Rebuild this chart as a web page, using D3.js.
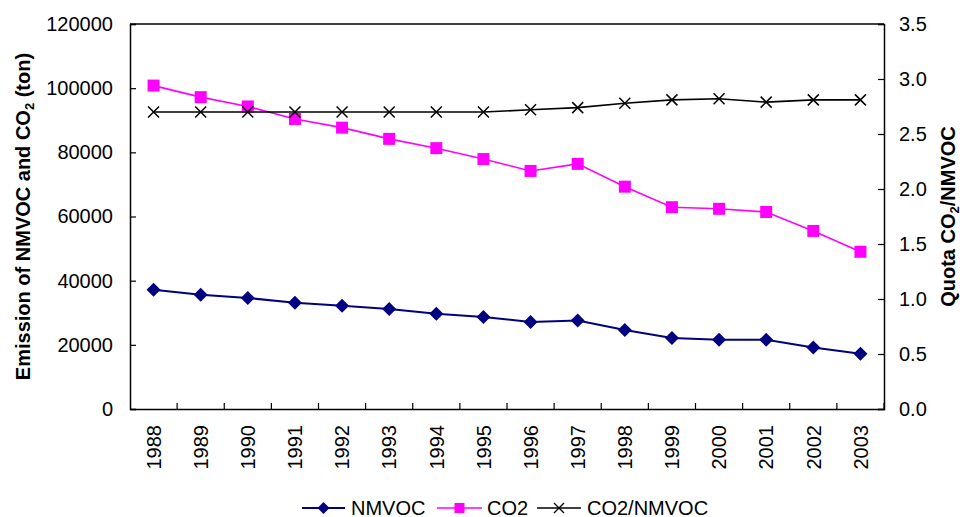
<!DOCTYPE html>
<html>
<head>
<meta charset="utf-8">
<script src="https://cdn.jsdelivr.net/npm/d3@7"></script>
<style>
  html, body { margin: 0; padding: 0; background: #fff; }
  svg { display: block; font-family: "Liberation Sans", Arial, sans-serif; }
</style>
</head>
<body>
<svg id="chart" width="960" height="517"></svg>
<script>
// Annual emissions (ton) and the CO2/NMVOC ratio
const years = ["1988","1989","1990","1991","1992","1993","1994","1995",
               "1996","1997","1998","1999","2000","2001","2002","2003"];
const nmvoc = [37200, 35600, 34600, 33100, 32200, 31200, 29700, 28700,
               27100, 27600, 24600, 22100, 21600, 21600, 19200, 17200];
const co2 = [100800, 97200, 94300, 90400, 87700, 84200, 81300, 77900,
             74200, 76400, 69300, 62900, 62400, 61400, 55500, 49000];
const ratio = [2.70, 2.70, 2.70, 2.70, 2.70, 2.70, 2.70, 2.70,
               2.72, 2.74, 2.78, 2.81, 2.82, 2.79, 2.81, 2.81];
const leftTicks = [0, 20000, 40000, 60000, 80000, 100000, 120000];
const rightTicks = [0, 0.5, 1.0, 1.5, 2.0, 2.5, 3.0, 3.5];

const svg = d3.select("#chart");
const plot = { left: 130, right: 884, top: 24, bottom: 409 };

const x = d3.scaleBand().domain(years).range([plot.left, plot.right]);
const cx = d => x(d) + x.bandwidth() / 2;
const yL = d3.scaleLinear().domain([0, 120000]).range([plot.bottom, plot.top]);
const yR = d3.scaleLinear().domain([0, 3.5]).range([plot.bottom, plot.top]);

// Plot frame (top edge)
svg.append("line")
  .attr("x1", plot.left).attr("x2", plot.right)
  .attr("y1", plot.top).attr("y2", plot.top)
  .attr("stroke", "#000").attr("stroke-width", 1.5);

// Left axis
const gL = svg.append("g")
  .attr("transform", `translate(${plot.left},0)`)
  .call(d3.axisLeft(yL).tickValues(leftTicks).tickFormat(d3.format("d"))
    .tickSize(-6).tickPadding(17));

// Right axis
const gR = svg.append("g")
  .attr("transform", `translate(${plot.right},0)`)
  .call(d3.axisRight(yR).tickValues(rightTicks).tickFormat(d3.format(".1f"))
    .tickSize(-6).tickPadding(15));

// Bottom axis: labels centred on categories, tick marks between them
const gB = svg.append("g")
  .attr("transform", `translate(0,${plot.bottom})`)
  .call(d3.axisBottom(x).tickSize(0).tickPadding(0));
gB.selectAll(".tick text")
  .attr("transform", "rotate(-90)")
  .attr("x", -16).attr("y", 0).attr("dy", "0.36em")
  .attr("text-anchor", "end");
gB.selectAll(".tickmark")
  .data(years.slice(1).concat(["__end"]))
  .enter().append("line")
  .attr("x1", d => d === "__end" ? plot.right : x(d))
  .attr("x2", d => d === "__end" ? plot.right : x(d))
  .attr("y1", 0).attr("y2", -6)
  .attr("stroke", "#000").attr("stroke-width", 1.2);

[gL, gR, gB].forEach(g => {
  g.selectAll(".domain").attr("stroke", "#000").attr("stroke-width", 1.5);
  g.selectAll(".tick line").attr("stroke", "#000").attr("stroke-width", 1.2);
  g.selectAll(".tick text").attr("font-size", 20).attr("fill", "#000")
    .attr("font-family", "'Liberation Sans', Arial, sans-serif");
});

// Axis titles
const leftTitle = svg.append("text")
  .attr("transform", `translate(23,${(plot.top + plot.bottom) / 2}) rotate(-90)`)
  .attr("text-anchor", "middle").attr("dy", "0.36em")
  .attr("font-size", 20).attr("font-weight", "bold");
leftTitle.append("tspan").text("Emission of NMVOC and CO");
leftTitle.append("tspan").text("2").attr("font-size", 13).attr("dy", "0.3em");
leftTitle.append("tspan").text(" (ton)").attr("dy", "-0.2em");

const rightTitle = svg.append("text")
  .attr("transform", `translate(948,${(plot.top + plot.bottom) / 2}) rotate(-90)`)
  .attr("text-anchor", "middle").attr("dy", "0.36em")
  .attr("font-size", 20).attr("font-weight", "bold");
rightTitle.append("tspan").text("Quota CO");
rightTitle.append("tspan").text("2").attr("font-size", 13).attr("dy", "0.3em");
rightTitle.append("tspan").text("/NMVOC").attr("dy", "-0.2em");

// Marker shapes
const diamond = (px, py, r) => `M${px},${py - r}L${px + r},${py}L${px},${py + r}L${px - r},${py}Z`;
const square = (px, py, r) => `M${px - r},${py - r}h${2 * r}v${2 * r}h${-2 * r}Z`;
const cross = (px, py, r) => `M${px - r},${py - r}L${px + r},${py + r}M${px - r},${py + r}L${px + r},${py - r}`;

const series = [
  { name: "NMVOC", values: nmvoc, y: yL, color: "#000080", width: 2, shape: "diamond" },
  { name: "CO2", values: co2, y: yL, color: "#ff00ff", width: 1.6, shape: "square" },
  { name: "CO2/NMVOC", values: ratio, y: yR, color: "#000000", width: 1.6, shape: "cross" }
];

function marker(g, shape, px, py, color) {
  if (shape === "diamond") g.append("path").attr("d", diamond(px, py, 7)).attr("fill", color);
  else if (shape === "square") g.append("path").attr("d", square(px, py, 6)).attr("fill", color);
  else g.append("path").attr("d", cross(px, py, 5.5)).attr("stroke", color)
    .attr("stroke-width", 1.5).attr("fill", "none");
}

// Draw CO2 first, then ratio, then NMVOC
[series[1], series[2], series[0]].forEach(s => {
  const g = svg.append("g");
  const line = d3.line().x((d, i) => cx(years[i])).y(d => s.y(d));
  g.append("path").datum(s.values).attr("d", line)
    .attr("fill", "none").attr("stroke", s.color).attr("stroke-width", s.width);
  s.values.forEach((v, i) => marker(g, s.shape, cx(years[i]), s.y(v), s.color));
});

// Legend
const legendY = 508;
const legendItems = [
  { s: series[0], x0: 302, x1: 345, tx: 351 },
  { s: series[1], x0: 437, x1: 482, tx: 487 },
  { s: series[2], x0: 537, x1: 581, tx: 587 }
];
const lg = svg.append("g");
legendItems.forEach(it => {
  lg.append("line").attr("x1", it.x0).attr("x2", it.x1)
    .attr("y1", legendY).attr("y2", legendY)
    .attr("stroke", it.s.color).attr("stroke-width", it.s.width);
  const m = (it.x0 + it.x1) / 2;
  if (it.s.shape === "diamond") lg.append("path").attr("d", diamond(m, legendY, 6)).attr("fill", it.s.color);
  else if (it.s.shape === "square") lg.append("path").attr("d", square(m, legendY, 5)).attr("fill", it.s.color);
  else lg.append("path").attr("d", cross(m, legendY, 5)).attr("stroke", it.s.color)
    .attr("stroke-width", 1.3).attr("fill", "none");
  lg.append("text").attr("x", it.tx).attr("y", legendY).attr("dy", "0.36em")
    .attr("font-size", 20).text(it.s.name);
});
</script>
</body>
</html>
